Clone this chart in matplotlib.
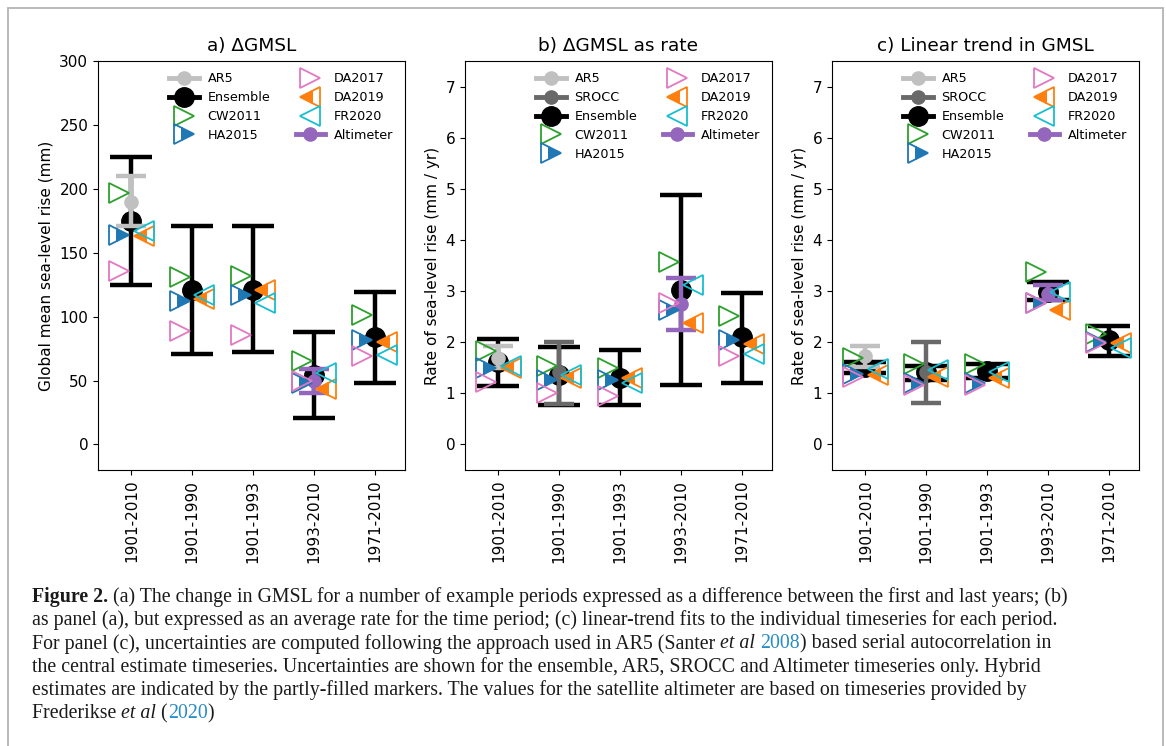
import numpy as np
import matplotlib
matplotlib.use("Agg")
import matplotlib.pyplot as plt
from matplotlib.lines import Line2D
from matplotlib.patches import Rectangle

nan = np.nan
periods = ['1901-2010', '1901-1990', '1901-1993', '1993-2010', '1971-2010']

# ---- panel a: change in GMSL (mm)
ens_a = [175, 121, 121, 54, 84]
ens_a_lo = [125, 71, 72, 21, 48]
ens_a_hi = [225, 171, 171, 88, 119]
ar5_a = [190, nan, nan, nan, nan]
ar5_a_lo = [171, nan, nan, nan, nan]
ar5_a_hi = [210, nan, nan, nan, nan]
cw_a = [197, 131, 132, 65, 101]
ha_a = [164, 112, 117, 48, 82]
da17_a = [136, 89, 86, 49.5, 69]
da19_a = [163, 114, 121, 43, 80]
fr_a = [167, 117, 111, 56, 70]
alt_a = [nan, nan, nan, 49.5, nan]
alt_a_lo = [nan, nan, nan, 40, nan]
alt_a_hi = [nan, nan, nan, 59, nan]

# ---- panel b: as rate (mm/yr)
ens_b = [1.62, 1.36, 1.30, 3.03, 2.10]
ens_b_lo = [1.14, 0.78, 0.77, 1.17, 1.20]
ens_b_hi = [2.06, 1.90, 1.84, 4.87, 2.97]
ar5_b = [1.70, nan, nan, nan, nan]
ar5_b_lo = [1.50, nan, nan, nan, nan]
ar5_b_hi = [1.92, nan, nan, nan, nan]
srocc_b = [nan, 1.41, nan, nan, nan]
srocc_b_lo = [nan, 0.80, nan, nan, nan]
srocc_b_hi = [nan, 2.01, nan, nan, nan]
cw_b = [1.82, 1.54, 1.49, 3.57, 2.51]
ha_b = [1.49, 1.27, 1.27, 2.63, 2.05]
da17_b = [1.23, 1.01, 0.94, 2.76, 1.73]
da19_b = [1.49, 1.30, 1.30, 2.37, 1.97]
fr_b = [1.53, 1.35, 1.20, 3.12, 1.77]
alt_b = [nan, nan, nan, 2.74, nan]
alt_b_lo = [nan, nan, nan, 2.24, nan]
alt_b_hi = [nan, nan, nan, 3.25, nan]

# ---- panel c: linear trend (mm/yr)
ens_c = [1.51, 1.41, 1.43, 2.99, 2.05]
ens_c_lo = [1.40, 1.27, 1.29, 2.82, 1.73]
ens_c_hi = [1.62, 1.54, 1.57, 3.17, 2.31]
ar5_c = [1.73, nan, nan, nan, nan]
ar5_c_lo = [1.52, nan, nan, nan, nan]
ar5_c_hi = [1.92, nan, nan, nan, nan]
srocc_c = [nan, 1.41, nan, nan, nan]
srocc_c_lo = [nan, 0.81, nan, nan, nan]
srocc_c_hi = [nan, 2.01, nan, nan, nan]
cw_c = [1.70, 1.57, 1.57, 3.37, 2.16]
ha_c = [1.37, 1.20, 1.20, 2.76, 2.01]
da17_c = [1.32, 1.17, 1.17, 2.76, 1.98]
da19_c = [1.36, 1.32, 1.30, 2.63, 1.99]
fr_c = [1.48, 1.46, 1.42, 2.99, 1.88]
alt_c = [nan, nan, nan, 2.95, nan]
alt_c_lo = [nan, nan, nan, 2.82, nan]
alt_c_hi = [nan, nan, nan, 3.12, nan]

titles = ['a) \u0394GMSL', 'b) \u0394GMSL as rate', 'c) Linear trend in GMSL']
ylabels = ['Global mean sea-level rise (mm)', 'Rate of sea-level rise (mm / yr)',
           'Rate of sea-level rise (mm / yr)']

C_AR5 = '#c0c0c0'
C_SROCC = '#696969'
C_ENS = 'black'
C_CW = '#2ca02c'
C_HA = '#1f77b4'
C_DA17 = '#e377c2'
C_DA19 = '#ff7f0e'
C_FR = '#17becf'
C_ALT = '#9467bd'

plt.rcParams['font.family'] = ['DejaVu Sans']
fig = plt.figure(figsize=(11.66, 7.46), dpi=100)

lefts = [98, 465, 832]
W, H = 1166, 746
axes = []
for l in lefts:
    axes.append(fig.add_axes([l / W, (H - 470) / H, 307 / W, 409 / H]))

x = np.arange(len(periods))
OFF = 0.2
TMS = 14


def errser(ax, y, lo, hi, color, ms, cap, z):
    y = np.array(y, float)
    lo = np.array(lo, float)
    hi = np.array(hi, float)
    m = ~np.isnan(y)
    ax.errorbar(x[m], y[m], yerr=[y[m] - lo[m], hi[m] - y[m]], fmt='o', color=color,
                ms=ms, elinewidth=3.2, capsize=cap, capthick=3.2, zorder=z)


def tri(ax, xo, y, marker, color, fill):
    kw = dict(ls='none', marker=marker, ms=TMS, mec=color, mew=1.3, zorder=4)
    if fill == 'none':
        kw.update(mfc='none')
    else:
        kw.update(mfc=color, fillstyle=fill, markerfacecoloralt='none')
    ax.plot(x + xo, y, **kw)


panels = [
    dict(ens=(ens_a, ens_a_lo, ens_a_hi), ar5=(ar5_a, ar5_a_lo, ar5_a_hi), srocc=None,
         alt=(alt_a, alt_a_lo, alt_a_hi), cw=cw_a, ha=ha_a, da17=da17_a, da19=da19_a, fr=fr_a,
         ylim=(-20, 300), yt=[0, 50, 100, 150, 200, 250, 300]),
    dict(ens=(ens_b, ens_b_lo, ens_b_hi), ar5=(ar5_b, ar5_b_lo, ar5_b_hi),
         srocc=(srocc_b, srocc_b_lo, srocc_b_hi),
         alt=(alt_b, alt_b_lo, alt_b_hi), cw=cw_b, ha=ha_b, da17=da17_b, da19=da19_b, fr=fr_b,
         ylim=(-0.5, 7.5), yt=[0, 1, 2, 3, 4, 5, 6, 7]),
    dict(ens=(ens_c, ens_c_lo, ens_c_hi), ar5=(ar5_c, ar5_c_lo, ar5_c_hi),
         srocc=(srocc_c, srocc_c_lo, srocc_c_hi),
         alt=(alt_c, alt_c_lo, alt_c_hi), cw=cw_c, ha=ha_c, da17=da17_c, da19=da19_c, fr=fr_c,
         ylim=(-0.5, 7.5), yt=[0, 1, 2, 3, 4, 5, 6, 7]),
]

for i, (ax, p) in enumerate(zip(axes, panels)):
    errser(ax, *p['ens'], C_ENS, 14, 15, 2)
    errser(ax, *p['ar5'], C_AR5, 9.5, 10.5, 2.5)
    if p['srocc'] is not None:
        errser(ax, *p['srocc'], C_SROCC, 9.5, 10.5, 2.6)
    errser(ax, *p['alt'], C_ALT, 9.5, 10.5, 2.7)
    tri(ax, -OFF, p['cw'], '>', C_CW, 'none')
    tri(ax, -OFF, p['ha'], '>', C_HA, 'right')
    tri(ax, -OFF, p['da17'], '>', C_DA17, 'none')
    tri(ax, OFF, p['da19'], '<', C_DA19, 'left')
    tri(ax, OFF, p['fr'], '<', C_FR, 'none')

    ax.set_xlim(-0.55, 4.5)
    ax.set_ylim(*p['ylim'])
    ax.set_yticks(p['yt'])
    ax.set_xticks(x)
    ax.set_xticklabels(periods, rotation=90)
    ax.tick_params(labelsize=11)
    ax.set_title(titles[i], fontsize=13.3, pad=7)
    ax.set_ylabel(ylabels[i], fontsize=11)

    hs = [Line2D([], [], color=C_AR5, lw=3.5, marker='o', ms=9.5, label='AR5')]
    if p['srocc'] is not None:
        hs.append(Line2D([], [], color=C_SROCC, lw=3.5, marker='o', ms=9.5, label='SROCC'))
    hs.append(Line2D([], [], color=C_ENS, lw=3.5, marker='o', ms=14, label='Ensemble'))
    hs.append(Line2D([], [], ls='none', marker='>', ms=TMS, mec=C_CW, mfc='none', mew=1.3, label='CW2011'))
    hs.append(Line2D([], [], ls='none', marker='>', ms=TMS, mec=C_HA, mfc=C_HA, fillstyle='right',
                     markerfacecoloralt='none', mew=1.3, label='HA2015'))
    hs.append(Line2D([], [], ls='none', marker='>', ms=TMS, mec=C_DA17, mfc='none', mew=1.3, label='DA2017'))
    hs.append(Line2D([], [], ls='none', marker='<', ms=TMS, mec=C_DA19, mfc=C_DA19, fillstyle='left',
                     markerfacecoloralt='none', mew=1.3, label='DA2019'))
    hs.append(Line2D([], [], ls='none', marker='<', ms=TMS, mec=C_FR, mfc='none', mew=1.3, label='FR2020'))
    hs.append(Line2D([], [], color=C_ALT, lw=3.5, marker='o', ms=9.5, label='Altimeter'))
    ax.legend(handles=hs, ncol=2, loc='upper right', frameon=False, fontsize=9.2,
              labelspacing=0.45, handlelength=2.3, handletextpad=0.7, columnspacing=2.0,
              borderaxespad=0.5)

# ---- page frame
fig.add_artist(Rectangle((8 / W, -0.1), (1163 - 8) / W, (H - 8) / H + 0.1, fill=False,
                         ec='#b4b4b4', lw=1.3, transform=fig.transFigure))

# ---- caption
cap_lines = [
    [("Figure 2.", 'bold'), (" (a) The change in GMSL for a number of example periods expressed as a difference between the first and last years; (b)", 'normal')],
    [("as panel (a), but expressed as an average rate for the time period; (c) linear-trend fits to the individual timeseries for each period.", 'normal')],
    [("For panel (c), uncertainties are computed following the approach used in AR5 (Santer ", 'normal'), ("et al", 'italic'), (" ", 'normal'), ("2008", 'link'), (") based serial autocorrelation in", 'normal')],
    [("the central estimate timeseries. Uncertainties are shown for the ensemble, AR5, SROCC and Altimeter timeseries only. Hybrid", 'normal')],
    [("estimates are indicated by the partly-filled markers. The values for the satellite altimeter are based on timeseries provided by", 'normal')],
    [("Frederikse ", 'normal'), ("et al", 'italic'), (" (", 'normal'), ("2020", 'link'), (")", 'normal')],
]
baselines = [602, 625, 648.5, 672, 695, 718.5]
SERIF = ['Liberation Serif', 'DejaVu Serif']
renderer = fig.canvas.get_renderer()


def props(style, size):
    d = dict(family=SERIF, fontsize=size, color='#1a1a1a')
    if style == 'bold':
        d['fontweight'] = 'bold'
    elif style == 'italic':
        d['fontstyle'] = 'italic'
    elif style == 'link':
        d['color'] = '#2a8cc4'
    return d


def advance(s, style, size):
    t1 = fig.text(0, 0, '|' + s + '|', **props(style, size))
    t2 = fig.text(0, 0, '||', **props(style, size))
    w = t1.get_window_extent(renderer).width - t2.get_window_extent(renderer).width
    t1.remove()
    t2.remove()
    return w


ref_w = sum(advance(s, st, 10) for s, st in cap_lines[1])
size = 10 * (1052 - 32) / ref_w

for segs, yb in zip(cap_lines, baselines):
    xp = 32.0
    for s, st in segs:
        fig.text(xp / W, (H - yb) / H, s, va='baseline', ha='left', **props(st, size))
        xp += advance(s, st, size)

fig.savefig('out.png', dpi=100)
